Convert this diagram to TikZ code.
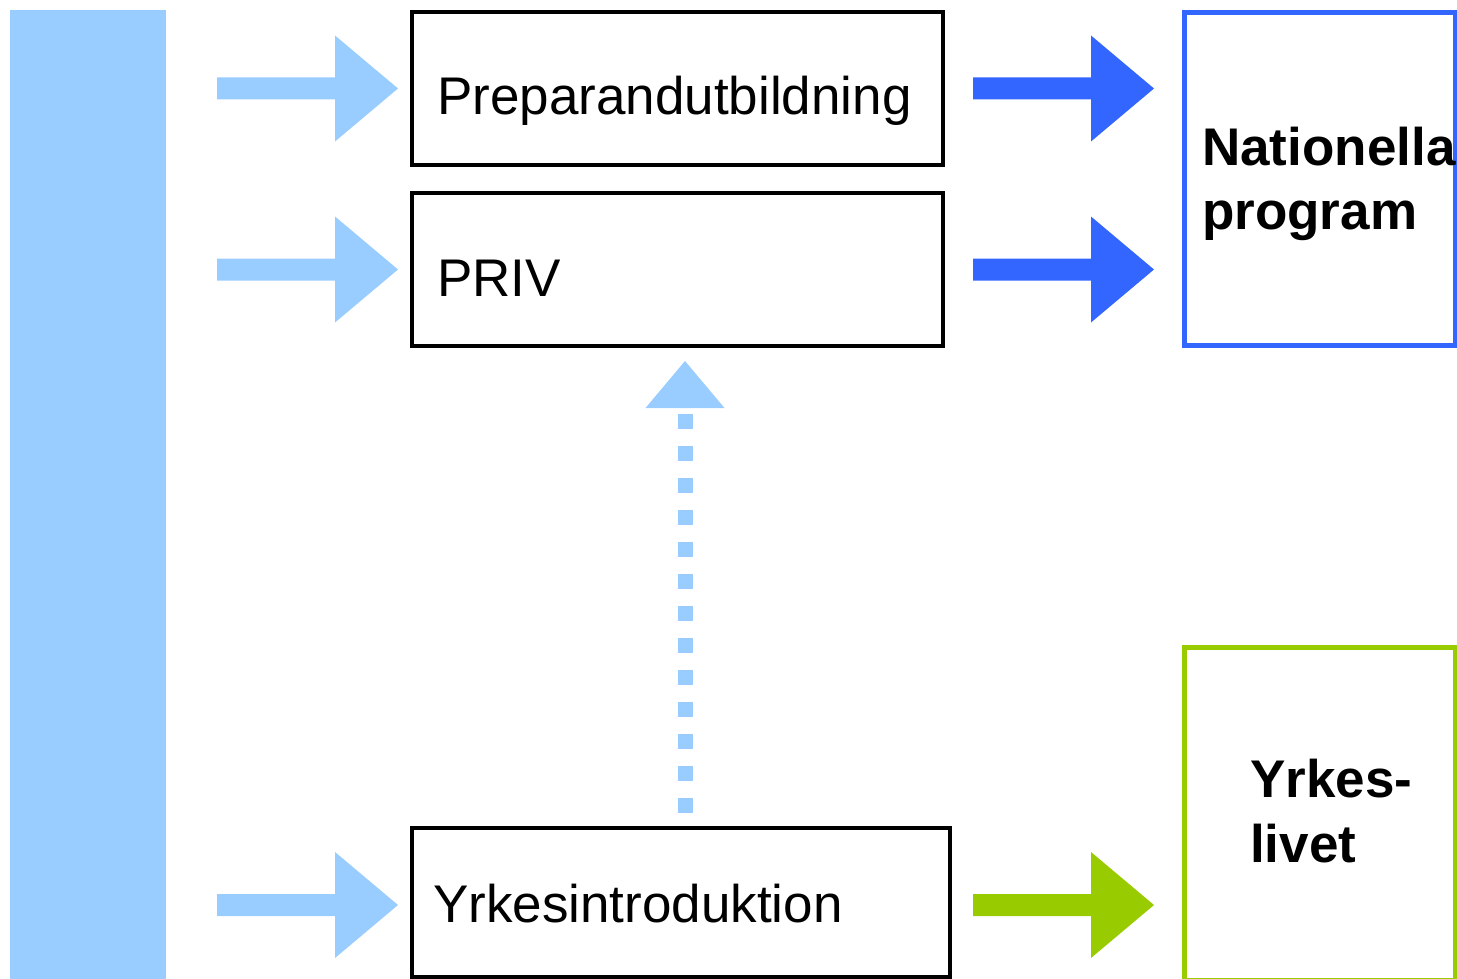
\documentclass[tikz,border=0pt]{standalone}
\usepackage{fontspec}
\setmainfont{Liberation Sans}
\usetikzlibrary{calc}
\definecolor{lb}{HTML}{99CCFF}
\definecolor{bb}{HTML}{3366FF}
\definecolor{gg}{HTML}{99CC00}
\begin{document}
\begin{tikzpicture}[x=1pt,y=-1pt,
  box/.style={draw=black,line width=4pt,fill=white,inner sep=0pt,outer sep=0pt},
  dbox/.style={draw=#1,line width=4.5pt,fill=white,inner sep=0pt,outer sep=0pt},
  lbl/.style={anchor=base west,inner sep=0pt,font=\fontsize{53}{64}\selectfont},
  blbl/.style={anchor=base west,inner sep=0pt,font=\fontsize{53}{64}\selectfont\bfseries},
  barrow/.pic={\fill (0,-11) -- (118,-11) -- (118,-53) -- (181,0) -- (118,53) -- (118,11) -- (0,11) -- cycle;}
]
\useasboundingbox (0,0) rectangle (1457,979);
% left bar
\fill[lb] (10,10) rectangle (166,979);
% boxes
\node[box,minimum width=531pt,minimum height=153pt] (prep) at (677.5,88.5) {};
\node[box,minimum width=531pt,minimum height=153pt] (priv) at (677.5,269.5) {};
\node[box,minimum width=538pt,minimum height=149pt] (yrk) at (681,902.5) {};
\node[dbox=bb,minimum width=271pt,minimum height=333pt] (nat) at (1320,179) {};
\node[dbox=gg,minimum width=271pt,minimum height=333pt] (liv) at (1320,814) {};
% labels
\node[lbl] (tprep) at (437,115) {Preparandutbildning};
\node[lbl] (tpriv) at (437,296) {PRIV};
\node[lbl] (tyrk) at (433,922) {Yrkesintroduktion};
\node[blbl] (tnat1) at (1202,165) {Nationella};
\node[blbl] (tnat2) at (1202,229) {program};
\node[blbl] (tliv1) at (1250,797) {Yrkes-};
\node[blbl] (tliv2) at (1250,862) {livet};
% incoming arrows
\pic[color=lb] at ($(prep.west)+(-195,0)$) {barrow};
\pic[color=lb] at ($(priv.west)+(-195,0)$) {barrow};
\pic[color=lb] at ($(yrk.west |- 0,905)+(-195,0)$) {barrow};
% outgoing arrows
\pic[color=bb] at ($(prep.east)+(30,0)$) {barrow};
\pic[color=bb] at ($(priv.east)+(30,0)$) {barrow};
\pic[color=gg] at (973,905) {barrow};
% dotted arrow from Yrkesintroduktion up to PRIV
\coordinate (dstart) at ($(yrk.north)+(4,-15)$);
\coordinate (dend) at ($(priv.south)+(7.5,68)$);
\draw[lb,line width=15pt,dash pattern=on 15pt off 17pt] (dstart) -- (dend);
\fill[lb] ($(dend)+(-39.5,-6)$) -- ($(dend)+(0,-53)$) -- ($(dend)+(39.5,-6)$) -- cycle;
\end{tikzpicture}
\end{document}
